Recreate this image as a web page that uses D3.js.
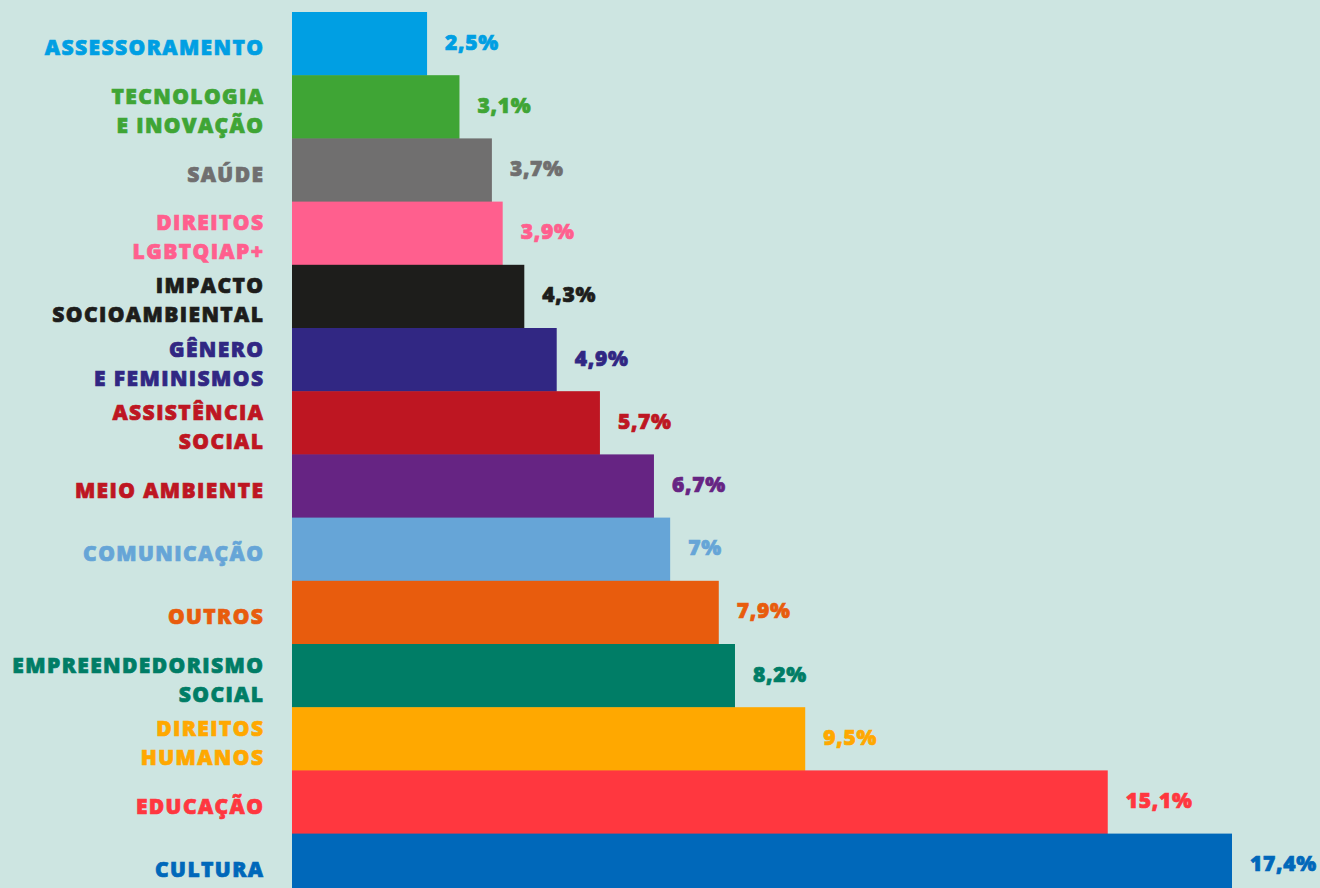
<!DOCTYPE html>
<html>
<head>
<meta charset="utf-8">
<script src="https://cdn.jsdelivr.net/npm/d3@7"></script>
<style>
  html, body { margin: 0; padding: 0; background: #CDE5E1; overflow: hidden; }
  svg { display: block; }
  text { font-family: "Open Sans", Lato, sans-serif; font-weight: 800; }
</style>
</head>
<body>
<svg id="chart" width="1320" height="888"></svg>
<script>
const categories = [
  ["ASSESSORAMENTO"],
  ["TECNOLOGIA", "E INOVAÇÃO"],
  ["SAÚDE"],
  ["DIREITOS", "LGBTQIAP+"],
  ["IMPACTO", "SOCIOAMBIENTAL"],
  ["GÊNERO", "E FEMINISMOS"],
  ["ASSISTÊNCIA", "SOCIAL"],
  ["MEIO AMBIENTE"],
  ["COMUNICAÇÃO"],
  ["OUTROS"],
  ["EMPREENDEDORISMO", "SOCIAL"],
  ["DIREITOS", "HUMANOS"],
  ["EDUCAÇÃO"],
  ["CULTURA"]
];
const values = [2.5, 3.1, 3.7, 3.9, 4.3, 4.9, 5.7, 6.7, 7, 7.9, 8.2, 9.5, 15.1, 17.4];
const barColors = ["#009FE3", "#3FA535", "#706F6F", "#FF5F8E", "#1D1D1B", "#312783", "#BE1622",
                   "#662483", "#66A5D7", "#E85C0D", "#007D66", "#FFA800", "#FF373F", "#0068BA"];
const labelColors = ["#009FE3", "#3FA535", "#706F6F", "#FF5F8E", "#1D1D1B", "#312783", "#BE1622",
                     "#BE1622", "#66A5D7", "#E85C0D", "#007D66", "#FFA800", "#FF373F", "#0068BA"];

const svg = d3.select("#chart");
const keys = categories.map(c => c.join(" "));
const data = keys.map((k, i) => ({ key: k, lines: categories[i], value: values[i], bar: barColors[i], label: labelColors[i] }));

const band = 63.2;
const y = d3.scaleBand().domain(keys).range([12, 12 + band * keys.length]).padding(0);
const x = d3.scaleLinear().domain([0, 17.4]).range([292, 1232]);
const fmt = v => String(v).replace(".", ",") + "%";

svg.append("g").selectAll("rect").data(data).join("rect")
  .attr("x", x(0))
  .attr("y", d => y(d.key))
  .attr("width", d => x(d.value) - x(0))
  .attr("height", y.bandwidth() + 0.5)
  .attr("fill", d => d.bar);

const lineH = 29;
const ls = 1.4;
const labels = svg.append("g").selectAll("text").data(data).join("text")
  .attr("text-anchor", "end")
  .attr("font-size", 21)
  .attr("letter-spacing", ls)
  .attr("fill", d => d.label)
  .attr("stroke", d => d.label)
  .attr("stroke-width", 0.7)
  .attr("transform", d => `translate(${263 + ls}, ${y(d.key) + y.bandwidth() / 2 + 4})`);
labels.selectAll("tspan").data(d => d.lines.map((l, j) => ({ l, j, n: d.lines.length }))).join("tspan")
  .attr("x", 0)
  .attr("y", t => (t.j - (t.n - 1) / 2) * lineH)
  .attr("dy", "0.36em")
  .text(t => t.l);

svg.append("g").selectAll("text").data(data).join("text")
  .attr("x", d => x(d.value) + 18)
  .attr("y", d => y(d.key) + y.bandwidth() / 2 - 1.5)
  .attr("dy", "0.36em")
  .attr("font-size", 21)
  .attr("letter-spacing", 0.7)
  .attr("fill", d => d.bar)
  .attr("stroke", d => d.bar)
  .attr("stroke-width", 0.7)
  .text(d => fmt(d.value));
</script>
</body>
</html>
